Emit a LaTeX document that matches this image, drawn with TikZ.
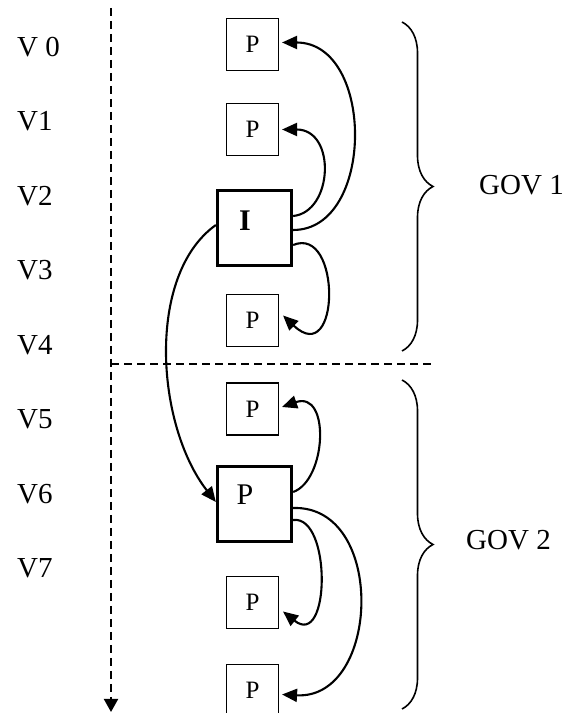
\documentclass[tikz,border=0pt]{standalone}
\usepackage{fontspec}
\setmainfont{Liberation Serif}
\usepackage{tikz}
\usetikzlibrary{arrows.meta,decorations.pathreplacing}

\begin{document}
\begin{tikzpicture}[x=1pt,y=1pt,
  vlabel/.style={anchor=west,inner sep=0pt,font=\fontsize{29}{34}\selectfont},
  pbox/.style={draw,line width=1.1pt,minimum size=52pt,inner sep=0pt,font=\fontsize{25}{30}\selectfont},
  bigbox/.style={draw,line width=3.3pt,minimum width=74pt,minimum height=75pt,inner sep=0pt},
  boxtext/.style={inner sep=0pt,font=\fontsize{30}{36}\selectfont},
  hop/.style={-{Triangle[length=15pt,width=13pt]},line width=2.1pt},
  timeline/.style={dash pattern=on 8pt off 5pt,line width=1.9pt},
  govbrace/.style={decorate,decoration={brace,amplitude=31pt},line width=1.6pt}]
  \useasboundingbox (0,0) rectangle (581,713);

  % time axis and GOV split
  \coordinate (axtop) at (111,705);
  \coordinate (axbot) at (111,1);
  \draw[timeline,-{Triangle[length=13pt,width=14pt]}] (axtop) -- (axbot);
  \coordinate (sepl) at (111,349);
  \coordinate (sepr) at (432,349);
  \draw[timeline] (sepl) -- (sepr);

  \foreach \i/\t in {0/V 0,1/V1,2/V2,3/V3,4/V4,5/V5,6/V6,7/V7}
    \node[vlabel] (v\i) at (17,{666-74.5*\i}) {\t};

  % frames
  \node[pbox] (p0) at (252.5,668.5) {P};
  \node[pbox] (p1) at (252.5,583.5) {P};
  \node[bigbox] (ibox) at (254.5,485) {};
  \node[boxtext] (itext) at ([shift={(-9.5,7)}]ibox.center) {\bfseries I};
  \node[pbox] (p3) at (252.5,392.5) {P};
  \node[pbox] (p4) at (252.5,304) {P};
  \node[bigbox] (p6) at (254.5,209) {};
  \node[boxtext] (p6text) at ([shift={(-9.5,9)}]p6.center) {P};
  \node[pbox] (p7) at (252.5,110.5) {P};
  \node[pbox] (p8) at (252.5,22.5) {P};

  % references
  \draw[hop] ([yshift=-2pt]ibox.east) .. controls +(82,0) and +(93,0) .. ([shift={(3,2)}]p0.east);
  \draw[hop] ([yshift=12pt]ibox.east) .. controls +(40,4) and +(54.5,0) .. ([xshift=3pt]p1.east);
  \draw[hop] ([yshift=-17pt]ibox.east) .. controls +(48.5,20) and +(57.5,-54.5) .. ([shift={(4,5)}]p3.east);
  \draw[hop] ([yshift=3pt]ibox.west) .. controls +(-70,-50) and +(-60,77) .. ([yshift=2pt]p6.west);
  \draw[hop] ([yshift=12pt]p6.east) .. controls +(33.5,12) and +(48.5,17) .. ([shift={(3,2)}]p4.east);
  \draw[hop] ([yshift=-16pt]p6.east) .. controls +(38.5,5) and +(47.5,-38) .. ([shift={(4,-9)}]p7.east);
  \draw[hop] ([yshift=-4pt]p6.east) .. controls +(93.5,3) and +(98.5,-5.5) .. ([shift={(3,-4)}]p8.east);

  % groups
  \draw[govbrace] (402,691) -- (402,362);
  \draw[govbrace] (402,333) -- (402,4);
  \node[vlabel] (gov1) at (479,528) {GOV 1};
  \node[vlabel] (gov2) at (466,173) {GOV 2};
\end{tikzpicture}
\end{document}
